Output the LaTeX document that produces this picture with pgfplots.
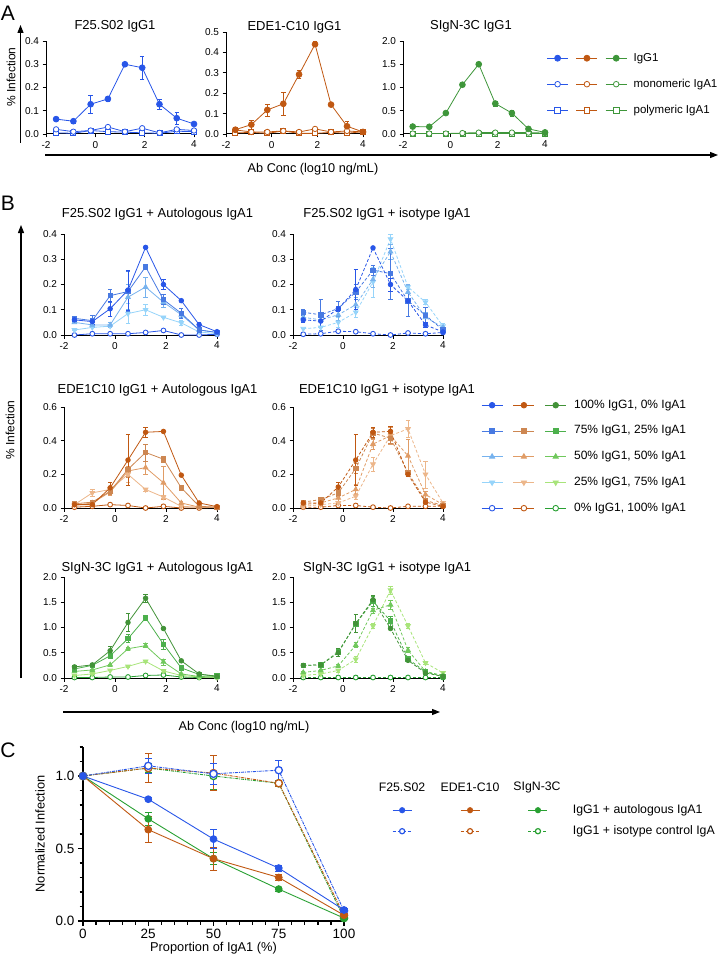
\documentclass[border=0pt]{standalone}
\usepackage{fontspec}
\setmainfont{Liberation Sans}
\usepackage{pgfplots}
\usepackage{pgfplotstable}
\pgfplotsset{compat=1.18}
\usetikzlibrary{arrows.meta}

\definecolor{cB}{RGB}{40,86,232}
\definecolor{cO}{RGB}{192,88,18}
\definecolor{cG}{RGB}{62,150,58}
\definecolor{cGC}{RGB}{40,160,50}
\definecolor{b1}{RGB}{40,86,232}
\definecolor{b2}{RGB}{72,122,226}
\definecolor{b3}{RGB}{118,178,238}
\definecolor{b4}{RGB}{150,212,250}
\definecolor{b0}{RGB}{40,86,232}
\definecolor{o1}{RGB}{192,88,18}
\definecolor{o2}{RGB}{205,135,82}
\definecolor{o3}{RGB}{224,156,102}
\definecolor{o4}{RGB}{236,182,138}
\definecolor{o0}{RGB}{192,88,18}
\definecolor{g1}{RGB}{66,146,56}
\definecolor{g2}{RGB}{76,176,76}
\definecolor{g3}{RGB}{112,200,92}
\definecolor{g4}{RGB}{168,228,122}
\definecolor{g0}{RGB}{40,160,50}

% Panel A: x, IgG1 (g) with error, monomeric (m), polymeric (p)
\pgfplotstableread{
x g ge m p
-1.59 0.064 0.005 0.020 0.005
-0.89 0.055 0.010 0.010 0.003
-0.19 0.128 0.037 0.015 0.015
0.51 0.151 0.010 0.030 0.010
1.20 0.300 0.000 0.010 0.008
1.90 0.285 0.050 0.025 0.005
2.60 0.128 0.020 0.005 0.003
3.30 0.068 0.025 0.020 0.012
4.00 0.043 0.000 0.015 0.010
}\Aone
\pgfplotstableread{
x g ge m p
-1.59 0.021 0.010 0.020 0.005
-0.89 0.046 0.022 0.010 0.008
-0.19 0.118 0.030 0.010 0.003
0.51 0.148 0.055 0.015 0.015
1.20 0.292 0.020 0.010 0.003
1.90 0.440 0.012 0.025 0.003
2.60 0.144 0.000 0.010 0.008
3.30 0.038 0.025 0.015 0.003
4.00 0.010 0.000 0.010 0.012
}\Atwo
\pgfplotstableread{
x g ge m p
-1.59 0.160 0.030 0.010 0.005
-0.89 0.155 0.000 0.010 0.005
-0.19 0.450 0.000 0.010 0.005
0.51 1.060 0.000 0.020 0.005
1.20 1.500 0.000 0.030 0.005
1.90 0.655 0.050 0.030 0.005
2.60 0.450 0.070 0.030 0.005
3.30 0.110 0.000 0.030 0.005
4.00 0.035 0.000 0.020 0.005
}\Athree

% Panel B: a=100% IgG1, b=75%, c=50%, d=25%, z=0% IgG1
\pgfplotstableread{
x a ae b be c ce d de z
-1.59 0.060 0.005 0.066 0.005 0.050 0.000 0.020 0.000 0.000
-0.89 0.053 0.010 0.057 0.020 0.040 0.010 0.030 0.000 0.005
-0.19 0.104 0.030 0.156 0.025 0.040 0.010 0.035 0.000 0.005
0.51 0.178 0.080 0.172 0.080 0.150 0.050 0.085 0.040 0.005
1.20 0.347 0.000 0.270 0.010 0.190 0.040 0.100 0.020 0.010
1.90 0.200 0.020 0.140 0.020 0.130 0.020 0.070 0.000 0.018
2.60 0.136 0.000 0.086 0.020 0.080 0.010 0.048 0.010 0.000
3.30 0.041 0.010 0.020 0.010 0.020 0.010 0.012 0.000 0.000
4.00 0.013 0.005 0.010 0.000 0.010 0.010 0.005 0.000 0.003
}\Bone
\pgfplotstableread{
x a ae b be c ce d de z
-1.59 0.060 0.010 0.090 0.010 0.070 0.010 0.025 0.000 0.003
-0.89 0.055 0.020 0.080 0.060 0.060 0.010 0.030 0.000 0.005
-0.19 0.104 0.010 0.105 0.030 0.080 0.020 0.050 0.020 0.015
0.51 0.180 0.080 0.170 0.030 0.120 0.030 0.090 0.020 0.013
1.20 0.345 0.000 0.257 0.020 0.220 0.030 0.210 0.060 0.005
1.90 0.200 0.025 0.243 0.100 0.330 0.030 0.380 0.020 0.000
2.60 0.135 0.010 0.135 0.060 0.170 0.030 0.190 0.010 0.008
3.30 0.040 0.010 0.078 0.030 0.070 0.020 0.130 0.010 0.005
4.00 0.012 0.000 0.020 0.010 0.030 0.010 0.035 0.010 0.010
}\Btwo
\pgfplotstableread{
x a ae b be c ce d de z
-1.59 0.020 0.010 0.025 0.005 0.015 0.010 0.020 0.010 0.005
-0.89 0.020 0.010 0.035 0.010 0.030 0.010 0.090 0.020 0.010
-0.19 0.120 0.030 0.100 0.020 0.095 0.020 0.110 0.020 0.020
0.51 0.285 0.150 0.230 0.050 0.220 0.030 0.200 0.050 0.015
1.20 0.450 0.030 0.330 0.050 0.240 0.040 0.110 0.010 0.000
1.90 0.455 0.000 0.290 0.020 0.150 0.100 0.065 0.010 0.010
2.60 0.195 0.000 0.120 0.010 0.030 0.010 0.010 0.000 0.000
3.30 0.030 0.010 0.010 0.000 0.005 0.000 0.005 0.000 0.000
4.00 0.008 0.000 0.005 0.000 0.005 0.000 0.003 0.000 0.005
}\Bthree
\pgfplotstableread{
x a ae b be c ce d de z
-1.59 0.030 0.010 0.035 0.010 0.020 0.010 0.010 0.000 0.005
-0.89 0.030 0.010 0.050 0.010 0.030 0.010 0.020 0.010 0.005
-0.19 0.125 0.030 0.090 0.020 0.060 0.020 0.030 0.010 0.015
0.51 0.285 0.150 0.235 0.030 0.110 0.030 0.070 0.020 0.015
1.20 0.450 0.030 0.445 0.030 0.380 0.030 0.260 0.040 0.005
1.90 0.455 0.030 0.415 0.030 0.430 0.050 0.430 0.030 0.000
2.60 0.200 0.010 0.210 0.010 0.310 0.100 0.470 0.050 0.010
3.30 0.035 0.010 0.045 0.010 0.080 0.020 0.200 0.080 0.010
4.00 0.010 0.000 0.015 0.000 0.020 0.010 0.030 0.010 0.010
}\Bfour
\pgfplotstableread{
x a ae b be c ce d de z
-1.59 0.22 0.03 0.18 0.02 0.13 0.02 0.05 0.00 0.01
-0.89 0.26 0.03 0.25 0.02 0.16 0.02 0.08 0.00 0.01
-0.19 0.54 0.08 0.44 0.03 0.26 0.02 0.15 0.00 0.02
0.51 1.10 0.18 0.78 0.08 0.58 0.03 0.23 0.02 0.02
1.20 1.58 0.08 1.19 0.05 0.64 0.04 0.33 0.02 0.05
1.90 0.98 0.00 0.67 0.10 0.32 0.06 0.14 0.02 0.06
2.60 0.34 0.00 0.20 0.02 0.08 0.02 0.05 0.00 0.02
3.30 0.08 0.00 0.07 0.00 0.03 0.00 0.02 0.00 0.01
4.00 0.03 0.00 0.04 0.02 0.02 0.00 0.01 0.00 0.02
}\Bfive
\pgfplotstableread{
x a ae b be c ce d de z
-1.59 0.25 0.03 0.25 0.03 0.11 0.02 0.05 0.00 0.01
-0.89 0.26 0.03 0.26 0.02 0.15 0.02 0.08 0.02 0.01
-0.19 0.50 0.08 0.52 0.05 0.24 0.03 0.15 0.03 0.01
0.51 1.08 0.18 1.07 0.05 0.65 0.05 0.37 0.05 0.01
1.20 1.55 0.08 1.52 0.10 1.34 0.05 1.03 0.05 0.01
1.90 0.98 0.00 1.13 0.10 1.45 0.08 1.74 0.08 0.01
2.60 0.35 0.00 0.38 0.05 0.55 0.05 1.03 0.05 0.01
3.30 0.10 0.00 0.12 0.03 0.13 0.03 0.30 0.02 0.01
4.00 0.03 0.00 0.03 0.02 0.05 0.02 0.10 0.02 0.01
}\Bsix

% Panel C
\pgfplotstableread{
x f fe e ee s se fi fie ei eie si sie
0 1.000 0.000 1.000 0.000 1.000 0.000 1.000 0.000 1.000 0.000 1.000 0.000
25 0.840 0.010 0.630 0.090 0.705 0.045 1.070 0.050 1.055 0.100 1.055 0.030
50 0.565 0.065 0.430 0.080 0.430 0.040 1.015 0.070 1.020 0.120 1.000 0.090
75 0.365 0.020 0.300 0.020 0.220 0.015 1.040 0.070 0.950 0.020 0.950 0.020
100 0.076 0.010 0.040 0.010 0.020 0.010 0.070 0.000 0.040 0.000 0.020 0.000
}\Ctab

\pgfplotsset{
  every axis title/.style={at={(0.5,1)}, anchor=base, font=\fontsize{13}{15}\selectfont},
  prism/.style={scale only axis, axis lines*=left, tick align=outside, clip=false,
    axis line style={line width=1pt, black},
    tick style={black, line width=0.9pt},
    major tick length=3.5pt,
    ticklabel style={font=\fontsize{10}{12}\selectfont},
    yticklabel style={/pgf/number format/fixed, /pgf/number format/fixed zerofill, /pgf/number format/precision=1},
    /pgf/number format/assume math mode=true,
    xmin=-2, xmax=4, ymin=0, xtick={-2,0,2,4},
    every axis plot/.append style={line width=0.8pt},
    error bars/error bar style={line width=0.6pt, solid},
    error bars/error mark options={rotate=90, mark size=2.2pt, line width=0.6pt, solid},
  },
  eb/.style={error bars/.cd, y dir=both, y explicit},
  s100/.style={mark=*, mark size=2.3pt, mark options={solid}},
  s75/.style={mark=square*, mark size=2.2pt, mark options={solid}},
  s50/.style={mark=triangle*, mark size=2.7pt, mark options={solid}},
  s25/.style={mark=triangle*, mark size=2.7pt, mark options={solid, rotate=180}},
  s0/.style={mark=*, mark size=2.4pt, mark options={solid, fill=white, line width=0.9pt}},
  legbase/.style={hide axis, scale only axis, width=1pt, height=1pt, xmin=0, xmax=1, ymin=0, ymax=1,
    anchor=north west, legend cell align=left},
}

\newcommand{\fiveplots}[3]{%
  \addplot[#20, #3, s0] table[x=x, y=z]{#1};
  \addplot[#24, #3, s25, eb] table[x=x, y=d, y error=de]{#1};
  \addplot[#23, #3, s50, eb] table[x=x, y=c, y error=ce]{#1};
  \addplot[#22, #3, s75, eb] table[x=x, y=b, y error=be]{#1};
  \addplot[#21, #3, s100, eb] table[x=x, y=a, y error=ae]{#1};
}

\begin{document}
\begin{tikzpicture}
\path[use as bounding box] (0,0) rectangle (725pt,-960pt);

% ---------------- Panel A ----------------
\node[font=\fontsize{21}{24}\selectfont] at (8pt,-13pt) {A};
\draw[line width=1.1pt, -{Triangle[width=6pt,length=8pt]}] (20.5pt,-143pt) -- (20.5pt,-25pt);
\draw[line width=1.1pt, -{Triangle[width=6pt,length=8pt]}] (45pt,-155pt) -- (718pt,-155pt);
\node[rotate=90, font=\fontsize{12}{14}\selectfont] at (11pt,-77pt) {\% Infection};
\node[font=\fontsize{12.7}{15}\selectfont] at (313pt,-169pt) {Ab Conc (log10 ng/mL)};

\begin{axis}[prism, at={(46pt,-134pt)}, anchor=south west, width=148pt, height=93pt,
  ymax=0.4, ytick={0,0.1,0.2,0.3,0.4}, title={F25.S02 IgG1}, title style={yshift=11pt, xshift=-5pt}]
\addplot[cB, mark=square*, mark size=2.5pt, mark options={fill=white, line width=0.8pt}] table[x=x, y=p]{\Aone};
\addplot[cB, mark=*, mark size=2.7pt, mark options={fill=white, line width=0.8pt}] table[x=x, y=m]{\Aone};
\addplot[cB, mark=*, mark size=2.9pt, eb] table[x=x, y=g, y error=ge]{\Aone};
\end{axis}

\begin{axis}[prism, at={(226pt,-134pt)}, anchor=south west, width=137pt, height=102pt,
  ymax=0.5, ytick={0,0.1,0.2,0.3,0.4,0.5}, title={EDE1-C10 IgG1}, title style={yshift=2pt}]
\addplot[cO, mark=square*, mark size=2.5pt, mark options={fill=white, line width=0.8pt}] table[x=x, y=p]{\Atwo};
\addplot[cO, mark=*, mark size=2.7pt, mark options={fill=white, line width=0.8pt}] table[x=x, y=m]{\Atwo};
\addplot[cO, mark=*, mark size=2.9pt, eb] table[x=x, y=g, y error=ge]{\Atwo};
\end{axis}

\begin{axis}[prism, at={(403pt,-134pt)}, anchor=south west, width=142pt, height=93pt,
  ymax=2, ytick={0,0.5,1,1.5,2}, title={SIgN-3C IgG1}, title style={yshift=11pt, xshift=-3pt}]
\addplot[cG, mark=square*, mark size=2.5pt, mark options={fill=white, line width=0.8pt}] table[x=x, y=p]{\Athree};
\addplot[cG, mark=*, mark size=2.7pt, mark options={fill=white, line width=0.8pt}] table[x=x, y=m]{\Athree};
\addplot[cG, mark=*, mark size=2.9pt, eb] table[x=x, y=g, y error=ge]{\Athree};
\end{axis}

% legend A
\begin{axis}[legbase, at={(546.5pt,-52pt)}, legend columns=3,
  legend image code/.code={\draw[mark repeat=2, mark phase=2, #1] plot coordinates {(0pt,0pt) (10.5pt,0pt) (21pt,0pt)};},
  legend style={at={(0,1)}, anchor=north west, draw=none, fill=none, inner sep=0pt, row sep=14pt,
    font=\fontsize{11.5}{13}\selectfont, nodes={inner sep=0pt, text height=9pt, text depth=3pt},
    /tikz/every odd column/.append style={column sep=6.5pt},
    /tikz/every even column/.append style={column sep=0pt}}]
\addlegendimage{cB, line width=0.8pt, mark=*, mark size=3pt}\addlegendentry{}
\addlegendimage{cO, line width=0.8pt, mark=*, mark size=3pt}\addlegendentry{}
\addlegendimage{cG, line width=0.8pt, mark=*, mark size=3pt}\addlegendentry{IgG1}
\addlegendimage{cB, line width=0.8pt, mark=*, mark size=2.8pt, mark options={fill=white}}\addlegendentry{}
\addlegendimage{cO, line width=0.8pt, mark=*, mark size=2.8pt, mark options={fill=white}}\addlegendentry{}
\addlegendimage{cG, line width=0.8pt, mark=*, mark size=2.8pt, mark options={fill=white}}\addlegendentry{monomeric IgA1}
\addlegendimage{cB, line width=0.8pt, mark=square*, mark size=2.8pt, mark options={fill=white}}\addlegendentry{}
\addlegendimage{cO, line width=0.8pt, mark=square*, mark size=2.8pt, mark options={fill=white}}\addlegendentry{}
\addlegendimage{cG, line width=0.8pt, mark=square*, mark size=2.8pt, mark options={fill=white}}\addlegendentry{polymeric IgA1}
\end{axis}

% ---------------- Panel B ----------------
\node[font=\fontsize{21}{24}\selectfont] at (8pt,-203pt) {B};
\draw[line width=1.1pt, -{Triangle[width=6pt,length=8pt]}] (21pt,-678pt) -- (21pt,-225pt);
\draw[line width=1.1pt, -{Triangle[width=6pt,length=8pt]}] (63pt,-712pt) -- (440pt,-712pt);
\node[rotate=90, font=\fontsize{12}{14}\selectfont] at (10pt,-430pt) {\% Infection};
\node[font=\fontsize{12.7}{15}\selectfont] at (244pt,-727pt) {Ab Conc (log10 ng/mL)};

\begin{axis}[prism, at={(64pt,-335pt)}, anchor=south west, width=153pt, height=101pt,
  ymax=0.4, ytick={0,0.1,0.2,0.3,0.4}, title={F25.S02 IgG1 + Autologous IgA1}, title style={yshift=16.5pt, xshift=17pt}]
\fiveplots{\Bone}{b}{solid}
\end{axis}
\begin{axis}[prism, at={(293pt,-335pt)}, anchor=south west, width=150pt, height=101pt,
  ymax=0.4, ytick={0,0.1,0.2,0.3,0.4}, title={F25.S02 IgG1 + isotype IgA1}, title style={yshift=16.5pt, xshift=19pt}]
\fiveplots{\Btwo}{b}{densely dashed}
\end{axis}

\begin{axis}[prism, at={(64pt,-508pt)}, anchor=south west, width=153pt, height=101pt,
  ymax=0.6, ytick={0,0.2,0.4,0.6}, title={EDE1C10 IgG1 + Autologous IgA1}, title style={yshift=13.5pt, xshift=17pt}]
\fiveplots{\Bthree}{o}{solid}
\end{axis}
\begin{axis}[prism, at={(293pt,-508pt)}, anchor=south west, width=150pt, height=101pt,
  ymax=0.6, ytick={0,0.2,0.4,0.6}, title={EDE1C10 IgG1 + isotype IgA1}, title style={yshift=13.5pt, xshift=19pt}]
\fiveplots{\Bfour}{o}{densely dashed}
\end{axis}

\begin{axis}[prism, at={(64pt,-678pt)}, anchor=south west, width=153pt, height=101pt,
  ymax=2, ytick={0,0.5,1,1.5,2}, title={SIgN-3C IgG1 + Autologous IgA1}, title style={yshift=5.5pt, xshift=17pt}]
\fiveplots{\Bfive}{g}{solid}
\end{axis}
\begin{axis}[prism, at={(293pt,-678pt)}, anchor=south west, width=150pt, height=101pt,
  ymax=2, ytick={0,0.5,1,1.5,2}, title={SIgN-3C IgG1 + isotype IgA1}, title style={yshift=5.5pt, xshift=19pt}]
\fiveplots{\Bsix}{g}{densely dashed}
\end{axis}

% legend B
\begin{axis}[legbase, at={(481pt,-399pt)}, legend columns=3,
  legend image code/.code={\draw[mark repeat=2, mark phase=2, #1] plot coordinates {(0pt,0pt) (10.5pt,0pt) (21pt,0pt)};},
  legend style={at={(0,1)}, anchor=north west, draw=none, fill=none, inner sep=0pt, row sep=13.75pt,
    font=\fontsize{12}{14}\selectfont, nodes={inner sep=0pt, text height=9pt, text depth=3pt},
    /tikz/every odd column/.append style={column sep=7.5pt},
    /tikz/every even column/.append style={column sep=1.5pt}}]
\addlegendimage{b1, line width=0.8pt, s100, mark size=2.8pt}\addlegendentry{}
\addlegendimage{o1, line width=0.8pt, s100, mark size=2.8pt}\addlegendentry{}
\addlegendimage{g1, line width=0.8pt, s100, mark size=2.8pt}\addlegendentry{100\% IgG1, 0\% IgA1}
\addlegendimage{b2, line width=0.8pt, s75, mark size=2.7pt}\addlegendentry{}
\addlegendimage{o2, line width=0.8pt, s75, mark size=2.7pt}\addlegendentry{}
\addlegendimage{g2, line width=0.8pt, s75, mark size=2.7pt}\addlegendentry{75\% IgG1, 25\% IgA1}
\addlegendimage{b3, line width=0.8pt, s50, mark size=3pt}\addlegendentry{}
\addlegendimage{o3, line width=0.8pt, s50, mark size=3pt}\addlegendentry{}
\addlegendimage{g3, line width=0.8pt, s50, mark size=3pt}\addlegendentry{50\% IgG1, 50\% IgA1}
\addlegendimage{b4, line width=0.8pt, s25, mark size=3pt}\addlegendentry{}
\addlegendimage{o4, line width=0.8pt, s25, mark size=3pt}\addlegendentry{}
\addlegendimage{g4, line width=0.8pt, s25, mark size=3pt}\addlegendentry{25\% IgG1, 75\% IgA1}
\addlegendimage{b0, line width=0.8pt, s0, mark size=2.8pt}\addlegendentry{}
\addlegendimage{o0, line width=0.8pt, s0, mark size=2.8pt}\addlegendentry{}
\addlegendimage{g0, line width=0.8pt, s0, mark size=2.8pt}\addlegendentry{0\% IgG1, 100\% IgA1}
\end{axis}

% ---------------- Panel C ----------------
\node[font=\fontsize{21}{24}\selectfont] at (8pt,-750pt) {C};
\begin{axis}[scale only axis, axis lines*=left, tick align=outside, clip=false,
  at={(83pt,-921pt)}, anchor=south west, width=261pt, height=174pt,
  xmin=0, xmax=100, ymin=0, ymax=1.2,
  xtick={0,25,50,75,100}, minor xtick={5,10,15,20,30,35,40,45,55,60,65,70,80,85,90,95},
  ytick={0,0.5,1}, minor ytick={0.1,0.2,0.3,0.4,0.6,0.7,0.8,0.9,1.1,1.2},
  axis line style={line width=1.5pt, black}, tick style={black, line width=1.2pt},
  major tick length=5pt, minor tick length=3.5pt,
  /pgf/number format/assume math mode=true,
  ticklabel style={font=\fontsize{13.5}{15}\selectfont},
  yticklabel style={/pgf/number format/fixed, /pgf/number format/fixed zerofill, /pgf/number format/precision=1},
  xlabel={Proportion of IgA1 (\%)}, ylabel={Normalized Infection},
  label style={font=\fontsize{12.8}{15}\selectfont},
  xlabel style={at={(axis description cs:0.5,-0.155)}, anchor=center},
  ylabel style={at={(axis description cs:-0.165,0.5)}, anchor=center},
  every axis plot/.append style={line width=0.9pt},
  error bars/error bar style={line width=0.8pt, solid},
  error bars/error mark options={rotate=90, mark size=3.5pt, line width=0.8pt, solid}]
\addplot[cGC, densely dashdotted, mark=*, mark size=3.6pt, mark options={solid, fill=white, line width=1.3pt}, eb] table[x=x, y=si, y error=sie]{\Ctab};
\addplot[cO, densely dashdotted, mark=*, mark size=3.6pt, mark options={solid, fill=white, line width=1.3pt}, eb] table[x=x, y=ei, y error=eie]{\Ctab};
\addplot[cB, densely dashdotted, mark=*, mark size=3.6pt, mark options={solid, fill=white, line width=1.3pt}, eb] table[x=x, y=fi, y error=fie]{\Ctab};
\addplot[cGC, mark=*, mark size=3.4pt, eb] table[x=x, y=s, y error=se]{\Ctab};
\addplot[cO, mark=*, mark size=3.4pt, eb] table[x=x, y=e, y error=ee]{\Ctab};
\addplot[cB, mark=*, mark size=3.4pt, eb] table[x=x, y=f, y error=fe]{\Ctab};
\end{axis}

% legend C
\node[font=\fontsize{12.3}{14}\selectfont] at (402pt,-787pt) {F25.S02};
\node[font=\fontsize{12.3}{14}\selectfont] at (470pt,-787pt) {EDE1-C10};
\node[font=\fontsize{12.3}{14}\selectfont] at (537pt,-787pt) {SIgN-3C};
\begin{axis}[legbase, at={(392pt,-804pt)}, legend columns=3,
  legend image code/.code={\draw[mark repeat=2, mark phase=2, #1] plot coordinates {(0pt,0pt) (9.5pt,0pt) (19pt,0pt)};},
  legend style={at={(0,1)}, anchor=north west, draw=none, fill=none, inner sep=0pt, row sep=9pt,
    font=\fontsize{12.3}{14}\selectfont, nodes={inner sep=0pt, text height=9pt, text depth=3pt},
    /tikz/every odd column/.append style={column sep=25pt},
    /tikz/every even column/.append style={column sep=22pt}}]
\addlegendimage{cB, line width=0.9pt, mark=*, mark size=2.6pt}\addlegendentry{}
\addlegendimage{cO, line width=0.9pt, mark=*, mark size=2.6pt}\addlegendentry{}
\addlegendimage{cGC, line width=0.9pt, mark=*, mark size=2.6pt}\addlegendentry{IgG1 + autologous IgA1}
\addlegendimage{cB, line width=0.9pt, densely dashed, mark=*, mark size=2.6pt, mark options={solid, fill=white, line width=1.2pt}}\addlegendentry{}
\addlegendimage{cO, line width=0.9pt, densely dashed, mark=*, mark size=2.6pt, mark options={solid, fill=white, line width=1.2pt}}\addlegendentry{}
\addlegendimage{cGC, line width=0.9pt, densely dashed, mark=*, mark size=2.6pt, mark options={solid, fill=white, line width=1.2pt}}\addlegendentry{IgG1 + isotype control IgA}
\end{axis}
\end{tikzpicture}
\end{document}
